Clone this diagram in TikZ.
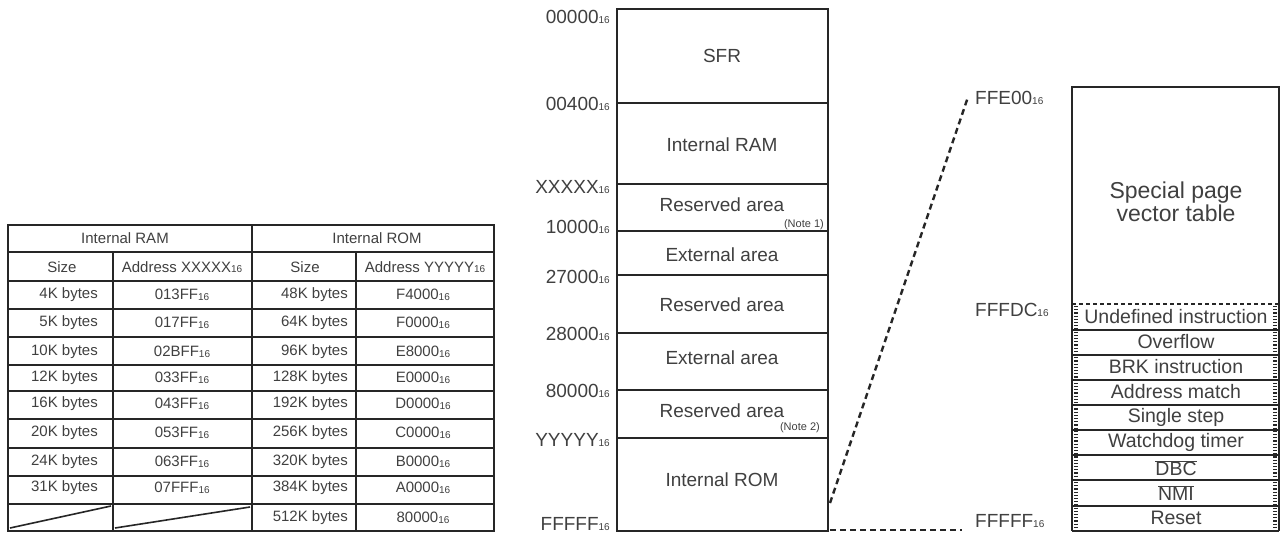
\documentclass[tikz,border=0pt]{standalone}
\usepackage{fontspec}
\setmainfont{Liberation Sans}
\newcommand\hx[1]{#1\raisebox{-0.5pt}{\fontsize{10}{10}\selectfont 16}}
\begin{document}
\begin{tikzpicture}[x=1pt,y=-1pt,
  ln/.style={draw=black!85, line width=1.6pt},
  tt/.style={text=black!75, inner sep=0pt, font=\fontsize{15}{16}\selectfont},
  mt/.style={text=black!75, inner sep=0pt, font=\fontsize{19}{21}\selectfont},
  lb/.style={text=black!75, inner sep=0pt, anchor=east, font=\fontsize{19}{21}\selectfont},
  rl/.style={text=black!75, inner sep=0pt, anchor=west, font=\fontsize{19}{21}\selectfont},
  nt/.style={text=black!75, inner sep=0pt, anchor=east, font=\fontsize{11}{12}\selectfont},
  vt/.style={text=black!75, inner sep=0pt, font=\fontsize{19.5}{21}\selectfont},
  bigt/.style={text=black!75, inner sep=0pt, align=center, font=\fontsize{23}{25}\selectfont},
  bigdash/.style={draw=black!85, line width=2.4pt, dash pattern=on 6pt off 4pt},
  smalldash/.style={draw=black!85, line width=1.8pt, dash pattern=on 4pt off 3pt},
  ticks/.style={draw=black!85, line width=4pt, dash pattern=on 1.2pt off 2pt}]
\useasboundingbox (0,0) rectangle (1281,533);
\fill[white] (0,0) rectangle (1281,533);

% ---------------- table ----------------
\draw[ln] (8,225) rectangle (494,531);
\foreach \yy in {252,281,309,337,365,391,419,448,476,504}
  \draw[ln] (8,\yy) -- (494,\yy);
\draw[ln] (252,225) -- (252,531);
\draw[ln] (113,252) -- (113,531);
\draw[ln] (356,252) -- (356,531);
\draw[ln] (10,528) -- (111,506);
\draw[ln] (115,528) -- (250,507);

\node[tt] (hram) at (125,238) {Internal RAM};
\node[tt] (hrom) at (377,238) {Internal ROM};
\node[tt] (s1) at (62,267) {Size};
\node[tt] (a1) at (182,267) {Address \hx{XXXXX}};
\node[tt] (s2) at (305,267) {Size};
\node[tt] (a2) at (425,267) {Address \hx{YYYYY}};

\foreach \ram/\raddr/\rom/\oaddr/\yy [count=\i] in
  {4K/013FF/48K/F4000/295, 5K/017FF/64K/F0000/323, 10K/02BFF/96K/E8000/352,
   12K/033FF/128K/E0000/378, 16K/043FF/192K/D0000/404, 20K/053FF/256K/C0000/433,
   24K/063FF/320K/B0000/462, 31K/07FFF/384K/A0000/488}{
  \node[tt, anchor=east] (rs\i) at (98,\yy) {\ram{} bytes};
  \node[tt] (ra\i) at (182,\yy) {\hx{\raddr}};
  \node[tt, anchor=east] (os\i) at (348,\yy) {\rom{} bytes};
  \node[tt] (oa\i) at (423,\yy) {\hx{\oaddr}};
}
\node[tt, anchor=east] (os9) at (348,518) {512K bytes};
\node[tt] (oa9) at (423,518) {\hx{80000}};

% ---------------- memory map ----------------
\draw[ln] (617,9) rectangle (828,531);
\foreach \yy in {103,184,231,275,333,390,438}
  \draw[ln] (617,\yy) -- (828,\yy);
\node[mt] (sfr) at (722,56) {SFR};
\node[mt] (iram) at (722,145) {Internal RAM};
\node[mt] (res1) at (722,205) {Reserved area};
\node[nt] (note1) at (824,225) {(Note 1)};
\node[mt] (ext1) at (722,255) {External area};
\node[mt] (res2) at (722,305) {Reserved area};
\node[mt] (ext2) at (722,358) {External area};
\node[mt] (res3) at (722,411) {Reserved area};
\node[nt] (note2) at (820,428) {(Note 2)};
\node[mt] (irom) at (722,480) {Internal ROM};

\node[lb] (l0) at (610,17) {\hx{00000}};
\node[lb] (l1) at (610,104) {\hx{00400}};
\node[lb] (l2) at (610,187) {\hx{XXXXX}};
\node[lb] (l3) at (610,227) {\hx{10000}};
\node[lb] (l4) at (610,277) {\hx{27000}};
\node[lb] (l5) at (610,334) {\hx{28000}};
\node[lb] (l6) at (610,391) {\hx{80000}};
\node[lb] (l7) at (610,440) {\hx{YYYYY}};
\node[lb] (l8) at (610,524) {\hx{FFFFF}};

% ---------------- vector table ----------------
\node[rl] (r0) at (975,98) {\hx{FFE00}};
\node[rl] (r1) at (975,310) {\hx{FFFDC}};
\node[rl] (r2) at (975,521) {\hx{FFFFF}};

\coordinate (mtop) at (830,503);
\coordinate (mbot) at (830,530);
\coordinate (rtop) at (968,97);
\coordinate (rbot) at (962,530);
\draw[bigdash] (mtop) -- (rtop);
\draw[bigdash] (mbot) -- (rbot);

\draw[ln] (1072,304) -- (1072,87) -- (1279,87) -- (1279,304);
\draw[smalldash] (1072,304) -- (1279,304);
\draw[ln] (1072,304) -- (1072,531);
\draw[ln] (1279,304) -- (1279,531);
\draw[ticks] (1076,306) -- (1076,530);
\draw[ticks] (1275,306) -- (1275,530);
\foreach \yy in {330,355,380,405,430,455,480,506,531}
  \draw[ln] (1072,\yy) -- (1279,\yy);

\node[bigt] (spv) at (1176,202) {Special page\\[-2pt]vector table};
\node[vt] (v1) at (1176,317) {Undefined instruction};
\node[vt] (v2) at (1176,342) {Overflow};
\node[vt] (v3) at (1176,367) {BRK instruction};
\node[vt] (v4) at (1176,392) {Address match};
\node[vt] (v5) at (1176,417) {Single step};
\node[vt] (v6) at (1176,442) {Watchdog timer};
\node[vt] (v7) at (1176,468) {$\overline{\mbox{DBC}}$};
\node[vt] (v8) at (1176,493) {$\overline{\mbox{NMI}}$};
\node[vt] (v9) at (1176,518) {Reset};
\end{tikzpicture}
\end{document}
